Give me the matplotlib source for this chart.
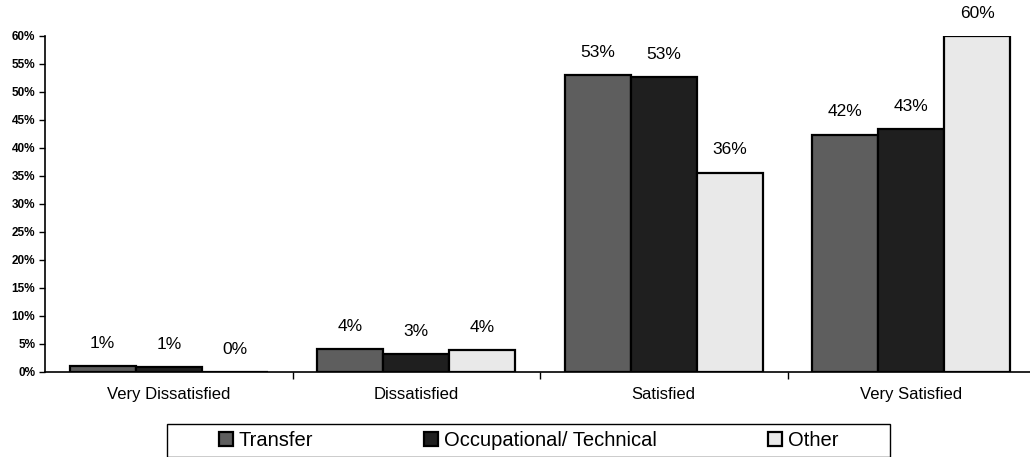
import matplotlib
matplotlib.use("Agg")
import matplotlib.pyplot as plt
from matplotlib.ticker import FixedLocator, PercentFormatter
from matplotlib.patches import Rectangle
import numpy as np

categories = ["Very Dissatisfied", "Dissatisfied", "Satisfied", "Very Satisfied"]
series_names = ["Transfer", "Occupational/ Technical", "Other"]
transfer = [1.1, 4.1, 53.0, 42.4]
occupational = [0.9, 3.2, 52.6, 43.4]
other = [0.0, 3.9, 35.6, 60.0]
yticks = [0, 5, 10, 15, 20, 25, 30, 35, 40, 45, 50, 55, 60]

series = [transfer, occupational, other]
colors = ["#5e5e5e", "#1f1f1f", "#e9e9e9"]

plt.rcParams['font.family'] = ['Liberation Sans', 'DejaVu Sans']

W, H = 1030, 457
fig = plt.figure(figsize=(W / 100, H / 100), dpi=100)
ax = fig.add_axes([45 / W, 85 / H, 990 / W, 336 / H])

x = np.arange(len(categories))
w = 0.267
for i, (vals, col, name) in enumerate(zip(series, colors, series_names)):
    pos = x + (i - 1) * w
    ax.bar(pos, vals, width=w, color=col, edgecolor="black",
           linewidth=1.6, label=name, zorder=3)
    for p, v in zip(pos, vals):
        ax.annotate(f"{v:.0f}%", (p, v), xytext=(0, 11), textcoords="offset points",
                    ha="center", va="bottom", fontsize=12.5)

ax.set_xlim(-0.5, len(categories) - 0.5)
ax.set_ylim(0, 60)
ax.set_yticks(yticks)
ax.yaxis.set_major_formatter(PercentFormatter(decimals=0))
for lbl in ax.get_yticklabels():
    lbl.set_fontweight("bold")
    lbl.set_fontsize(8.5)
ax.tick_params(axis="y", direction="out", length=4, width=1, pad=3)

ax.set_xticks(x)
ax.set_xticklabels(categories, fontsize=12)
ax.tick_params(axis="x", which="major", length=0, pad=11)
ax.xaxis.set_minor_locator(FixedLocator(np.arange(0.5, len(categories) - 0.5, 1)))
ax.tick_params(axis="x", which="minor", direction="out", length=5, width=1)

ax.spines["top"].set_visible(False)
ax.spines["right"].set_visible(False)
ax.spines["left"].set_linewidth(1.2)
ax.spines["bottom"].set_linewidth(1.2)

leg = fig.legend(loc="center", bbox_to_anchor=(528.5 / W, 1 - 440.5 / H), ncol=3,
                 fontsize=14.5, frameon=False,
                 handlelength=0.7, handleheight=0.7, handletextpad=0.3,
                 columnspacing=5.5, borderpad=0, borderaxespad=0)
fig.patches.append(Rectangle((167 / W, 1 - 457 / H), (890 - 167) / W, 33 / H,
                             transform=fig.transFigure, fill=False,
                             edgecolor="black", linewidth=1.0))

fig.savefig("out.png", dpi=100, facecolor="white")
